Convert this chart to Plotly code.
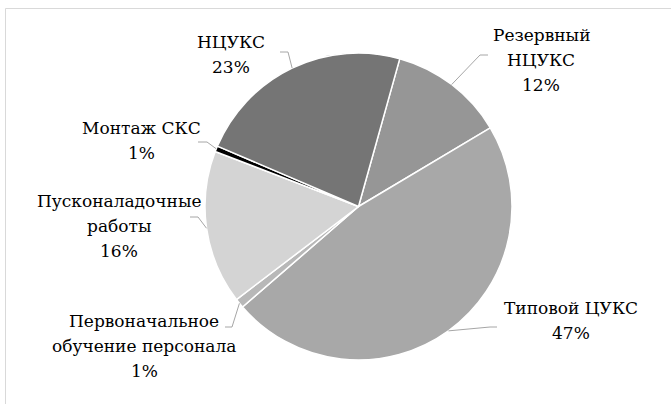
import math
import plotly.graph_objects as go

W, H = 671, 404

# Data (clockwise from first slice)
categories = ["Резервный<br>НЦУКС", "Типовой ЦУКС", "Первоначальное<br>обучение персонала",
              "Пусконаладочные<br>работы", "Монтаж СКС", "НЦУКС"]
values = [12.1, 47.2, 1.0, 16.2, 0.6, 22.9]
colors = ["#969696", "#a8a8a8", "#b8b8b8", "#d4d4d4", "#000000", "#757575"]

# Layout helpers (pixel x-centre / first-line y-centre of label blocks, leader elbows)
label_pos = [(541, 35), (571, 308), (144, 321), (119, 201), (141, 128), (231, 42)]
leader_anchor = [((488, 55), (480, 55)), ((497, 327), (490, 327)), ((225, 327), (232, 327)),
                 ((190, 217), (198, 217)), ((198, 142), (207, 142)), ((280, 52), (288, 52))]
LINE_STEP = 25

CX, CY, R = 358.5, 206.5, 153.5
ROT = 15.6
FONT = "DejaVu Serif, Liberation Serif, Times New Roman, serif"

def px(x):
    return x / W

def py(y):
    return 1 - y / H

fig = go.Figure(go.Pie(
    labels=categories, values=values, sort=False, direction="clockwise",
    rotation=ROT, marker=dict(colors=colors, line=dict(color="white", width=1.5)),
    textinfo="none", hoverinfo="label+percent", showlegend=False,
    domain=dict(x=[px(CX - R), px(CX + R)], y=[py(CY + R), py(CY - R)]),
))

total = sum(values)
annotations = []
shapes = []
cum = 0.0
for cat, v, (lx, ly), (a0, a1) in zip(categories, values, label_pos, leader_anchor):
    pct = int(100 * v / total + 0.5)
    mid = ROT + 360 * (cum + v / 2) / total
    cum += v
    ex = CX + R * math.sin(math.radians(mid))
    ey = CY - R * math.cos(math.radians(mid))
    lines = cat.split("<br>") + [f"{pct}%"]
    for k, line in enumerate(lines):
        annotations.append(dict(
            x=px(lx), y=py(ly + k * LINE_STEP), xref="paper", yref="paper", showarrow=False,
            text=line, xanchor="center", yanchor="middle",
            font=dict(family=FONT, size=17, color="#000000"),
        ))
    shapes.append(dict(
        type="path", xref="paper", yref="paper",
        path=f"M {px(a0[0])},{py(a0[1])} L {px(a1[0])},{py(a1[1])} L {px(ex)},{py(ey)}",
        line=dict(color="#a6a6a6", width=1),
    ))

shapes.append(dict(type="rect", xref="paper", yref="paper", x0=px(5.5), x1=1.2, y0=-0.2, y1=py(8.5),
                   line=dict(color="#d9d9d9", width=1), fillcolor="rgba(0,0,0,0)"))

fig.update_layout(
    width=W, height=H, margin=dict(l=0, r=0, t=0, b=0),
    paper_bgcolor="white", plot_bgcolor="white",
    font=dict(family=FONT),
    annotations=annotations, shapes=shapes,
)

fig.write_html("out.html", config={"displayModeBar": False},
               post_script="document.body.style.margin='0';")
